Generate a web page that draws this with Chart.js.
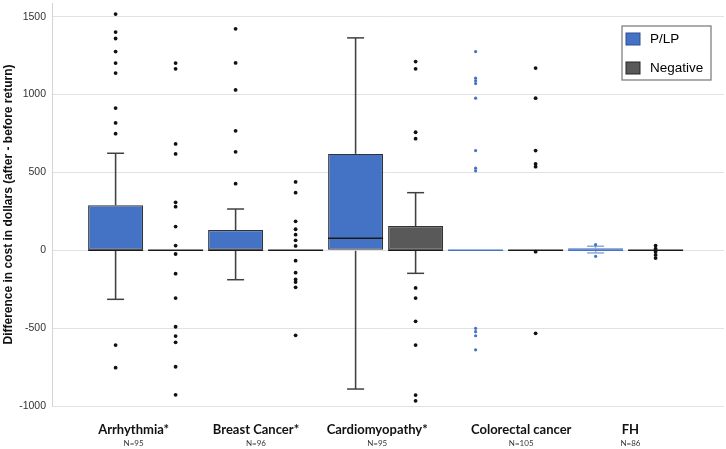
<!DOCTYPE html>
<html>
<head>
<meta charset="utf-8">
<script src="https://cdn.jsdelivr.net/npm/chart.js@4.4.0/dist/chart.umd.min.js"></script>
<style>
  html, body { margin: 0; padding: 0; background: #fff; }
  #wrap { width: 726px; height: 449px; }
</style>
</head>
<body>
<div id="wrap"><canvas id="chart" width="726" height="449"></canvas></div>
<script>
const categories = ['Arrhythmia*', 'Breast Cancer*', 'Cardiomyopathy*', 'Colorectal cancer', 'FH'];
const sampleSizes = ['N=95', 'N=96', 'N=95', 'N=105', 'N=86'];
const yTicks = [-1000, -500, 0, 500, 1000, 1500];

// P/LP
const plpQ1 = [0, 0, 0, 0, 0];
const plpQ3 = [289, 130, 619, 0, 13];
const plpMedian = [0, 0, 77, 0, 0];
const plpLow = [-315, -189, -891, 0, -17];
const plpHigh = [623, 265, 1364, 0, 26];
const plpOutliers = [
  [1517, 1401, 1360, 1276, 1202, 1138, 913, 818, 749, -609, -754],
  [1422, 1203, 1030, 767, 632, 428],
  [],
  [1276, 1105, 1088, 1071, 977, 640, 527, 510, -501, -523, -549, -639],
  [36, -39],
];

// Negative
const negQ1 = [0, 0, 0, 0, 0];
const negQ3 = [0, 0, 156, 0, 0];
const negMedian = [0, 0, 0, 0, 0];
const negLow = [0, 0, -148, 0, 0];
const negHigh = [0, 0, 370, 0, 0];
const negOutliers = [
  [1202, 1165, 683, 619, 308, 280, 152, 30, -24, -150, -307, -491, -551, -591, -748, -928],
  [439, 370, 186, 135, 100, 64, 28, -67, -144, -187, -204, -238, -546],
  [1212, 1165, 758, 717, -242, -307, -456, -609, -930, -967],
  [1170, 977, 640, 555, 537, -9, -533],
  [30, 10, -10, -30, -50],
];

const BLUE = '#4472C4';
const GREY = '#595959';
const LINE = '#333333';
const LIGHT_BLUE = '#8FAADC';
// groups drawn in blue instead of black (degenerate boxes)
const blueGroups = [3, 4];

const groups = [
  { off: -0.25, q1: plpQ1, q3: plpQ3, med: plpMedian, lo: plpLow, hi: plpHigh, out: plpOutliers, plp: true },
  { off: 0.25, q1: negQ1, q3: negQ3, med: negMedian, lo: negLow, hi: negHigh, out: negOutliers, plp: false },
];

function isBlue(raw) {
  return raw.plp && blueGroups.includes(raw.c);
}

const boxData = [[], []];
const stemData = [];
const capData = [];
const medData = [];
const outData = [];
groups.forEach((g, gi) => {
  categories.forEach((c, i) => {
    const x = i + g.off;
    boxData[gi].push({ x: x, y: [g.q1[i], g.q3[i]], c: i, plp: g.plp });
    medData.push({ x: x, y: g.med[i], c: i, plp: g.plp });
    if (g.hi[i] > g.q3[i]) {
      stemData.push({ x: x, y: [g.q3[i], g.hi[i]], c: i, plp: g.plp });
      capData.push({ x: x, y: g.hi[i], c: i, plp: g.plp });
    }
    if (g.lo[i] < g.q1[i]) {
      stemData.push({ x: x, y: [g.lo[i], g.q1[i]], c: i, plp: g.plp });
      capData.push({ x: x, y: g.lo[i], c: i, plp: g.plp });
    }
    g.out[i].forEach(v => outData.push({ x: x, y: v, c: i, plp: g.plp }));
  });
});

const legendBox = {
  id: 'legendBox',
  afterDraw(chart) {
    const ctx = chart.ctx;
    const x = chart.chartArea.right - 102;
    const y = 26;
    ctx.save();
    ctx.fillStyle = '#fff';
    ctx.strokeStyle = '#808080';
    ctx.lineWidth = 1.3;
    ctx.fillRect(x, y, 89, 54);
    ctx.strokeRect(x, y, 89, 54);
    const items = [['P/LP', BLUE, '#2F4F8F'], ['Negative', GREY, '#262626']];
    items.forEach((it, k) => {
      const yy = y + 7 + k * 29;
      ctx.fillStyle = it[1];
      ctx.fillRect(x + 4, yy, 14, 12);
      ctx.strokeStyle = it[2];
      ctx.lineWidth = 1;
      ctx.strokeRect(x + 4, yy, 14, 12);
      ctx.fillStyle = '#000';
      ctx.font = '13.5px "Liberation Sans", Arial, sans-serif';
      ctx.textBaseline = 'middle';
      ctx.fillText(it[0], x + 28, yy + 6.5);
    });
    ctx.restore();
  }
};

// label centres relative to the category positions
const labelShift = [-0.1, -0.08, -0.07, 0.13, 0.04];
const labelPos = categories.map((c, i) => i + labelShift[i]);

const ctx = document.getElementById('chart').getContext('2d');

const boxStyle = {
  type: 'bar',
  grouped: false,
  categoryPercentage: 1,
  barPercentage: 0.917,
  borderSkipped: false,
  borderWidth: 1.2,
  order: 3,
};

new Chart(ctx, {
  type: 'bar',
  data: {
    datasets: [
      Object.assign({}, boxStyle, {
        label: 'P/LP',
        data: boxData[0],
        backgroundColor: BLUE,
        borderColor: c => (c.raw && isBlue(c.raw) ? BLUE : LINE),
      }),
      Object.assign({}, boxStyle, {
        label: 'Negative',
        data: boxData[1],
        backgroundColor: GREY,
        borderColor: LINE,
      }),
      {
        type: 'bar',
        label: 'whiskers',
        data: stemData,
        grouped: false,
        categoryPercentage: 1,
        barPercentage: 0.026,
        borderWidth: 0,
        backgroundColor: c => (c.raw && isBlue(c.raw) ? LIGHT_BLUE : '#404040'),
        order: 4,
      },
      {
        type: 'scatter',
        label: 'caps',
        data: capData,
        pointStyle: 'line',
        pointRadius: 8.5,
        pointHoverRadius: 8.5,
        borderWidth: 1.5,
        borderColor: c => (c.raw && isBlue(c.raw) ? LIGHT_BLUE : '#404040'),
        order: 2,
      },
      {
        type: 'scatter',
        label: 'median',
        data: medData,
        pointStyle: 'line',
        pointRadius: 27.5,
        pointHoverRadius: 27.5,
        borderWidth: 1.5,
        borderColor: c => (c.raw && isBlue(c.raw) ? BLUE : '#1a1a1a'),
        order: 1,
      },
      {
        type: 'scatter',
        label: 'outliers',
        data: outData,
        pointStyle: 'circle',
        pointRadius: c => (c.raw && isBlue(c.raw) ? 1.6 : 1.9),
        borderWidth: 0,
        backgroundColor: c => (c.raw && isBlue(c.raw) ? BLUE : '#111111'),
        order: 0,
      },
    ],
  },
  options: {
    responsive: false,
    animation: false,
    layout: { autoPadding: false, padding: { top: 3, right: 2, left: 0, bottom: 0 } },
    plugins: {
      legend: { display: false },
      tooltip: { enabled: false },
    },
    scales: {
      x: {
        type: 'linear',
        min: -0.78,
        max: 4.82,
        offset: false,
        afterBuildTicks: s => { s.ticks = labelPos.map(v => ({ value: v })); },
        afterFit: s => { s.height = 32; },
        grid: { display: false, drawTicks: false },
        border: { display: false },
        ticks: {
          autoSkip: false,
          maxRotation: 0,
          padding: 16,
          color: '#111',
          font: { family: 'Lato', size: 13, weight: 'bold' },
          callback: (v, i) => categories[i],
        },
      },
      xN: {
        type: 'linear',
        position: 'bottom',
        min: -0.78,
        max: 4.82,
        offset: false,
        afterBuildTicks: s => { s.ticks = labelPos.map(v => ({ value: v })); },
        afterFit: s => { s.height = 11; },
        grid: { display: false, drawTicks: false },
        border: { display: false },
        ticks: {
          autoSkip: false,
          maxRotation: 0,
          padding: 1,
          color: '#333',
          font: { family: 'Lato', size: 8 },
          callback: (v, i) => sampleSizes[i],
        },
      },
      y: {
        min: -1000,
        max: 1588,
        afterBuildTicks: s => { s.ticks = yTicks.map(v => ({ value: v })); },
        afterFit: s => {
          s.width = 52;
          s.paddingTop = 0;
          s.paddingBottom = 0;
        },
        grid: { color: '#e2e2e2', lineWidth: 1, drawTicks: false },
        border: { display: true, color: '#d4d4d4', width: 1 },
        ticks: {
          padding: 6,
          color: '#333',
          font: { family: 'Liberation Sans', size: 10.5 },
          callback: v => String(v),
        },
        title: {
          display: true,
          text: 'Difference in cost in dollars (after - before return)',
          color: '#111',
          font: { family: 'Liberation Sans', size: 12, weight: 'bold' },
          padding: { top: 1, bottom: 0 },
        },
      },
    },
  },
  plugins: [legendBox],
});
</script>
</body>
</html>
